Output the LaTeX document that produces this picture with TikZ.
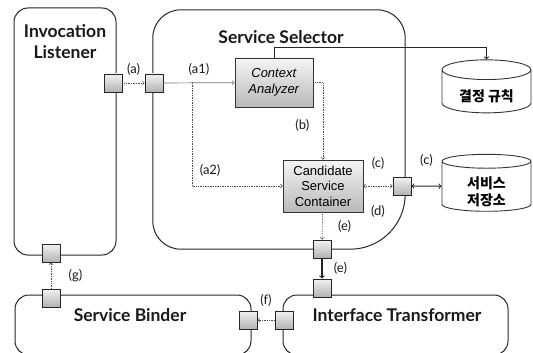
\documentclass[tikz,border=0pt]{standalone}
\usepackage{fontspec}
\usetikzlibrary{shapes.geometric}
\setmainfont{Liberation Sans}
\newfontfamily\ttlfont{Lato}
\newfontfamily\krfont{Noto Sans CJK KR}
\newcommand\lowertext[1]{\raisebox{-5pt}[\height][\depth]{#1}}

\begin{document}
\begin{tikzpicture}[x=1pt, y=-1pt,
    comp/.style={draw=black!85, line width=1pt, rectangle, rounded corners=14pt, inner sep=0pt},
    edge line/.style={draw=black!85, line width=1pt},
    title/.style={font=\ttlfont\bfseries\fontsize{17.5}{21}\selectfont, align=center, text=black!90},
    inbox/.style={draw=black!80, line width=0.9pt, top color=gray!8, bottom color=gray!55, font=\fontsize{13}{15.5}\selectfont, align=center, inner sep=0pt},
    port/.style={draw=black!85, line width=0.8pt, top color=gray!10, bottom color=gray!60, minimum size=18pt, inner sep=0pt},
    store/.style={draw=black!80, line width=0.9pt, cylinder, shape border rotate=90, aspect=0.36, font=\krfont\bfseries\fontsize{14}{17}\selectfont, inner sep=0pt},
    flow/.style={->, draw=black!70, line width=0.7pt, densely dotted},
    lab/.style={font=\ttlfont\fontsize{13}{15}\selectfont, text=black!90}]
  \useasboundingbox (0,0) rectangle (533,353);

  % components
  \node (il) at (65,131.5) [comp, minimum width=102pt, minimum height=247pt] {};
  \node (ss) at (279,129.5) [rectangle, minimum width=252pt, minimum height=239pt] {};
  \draw[edge line, rounded corners=28pt] (ss.east) -- (ss.north east) -- (ss.north west) -- (ss.south west) -- (ss.south);
  \draw[edge line, rounded corners=55pt] (ss.south) -- (ss.south east) -- (ss.east);
  \node (sb) at (133,325) [comp, minimum width=236pt, minimum height=60pt] {};
  \node (it) at (395.5,325) [comp, minimum width=225pt, minimum height=60pt] {};

  \node (ilname) at (65,42) [title] {Invocation\\Listener};
  \node (ssname) at (281,37) [title] {Service Selector};
  \node (sbname) at (130,315) [title] {Service Binder};
  \node (itname) at (397,315) [title] {Interface Transformer};

  % inside the selector
  \node (ca) at (274,82.5) [inbox, minimum width=78pt, minimum height=49pt] {\textit{Context}\\\textit{Analyzer}};
  \node (csc) at (323,186) [inbox, minimum width=80pt, minimum height=52pt] {Candidate\\Service\\Container};

  % stores
  \node (rules) at (486.5,91.5) [store, minimum width=89pt, minimum height=53pt] {\lowertext{결정 규칙}};
  \node (repo) at (486.5,186.5) [store, minimum width=89pt, minimum height=57pt] {\lowertext{\shortstack{서비스\\[1pt]저장소}}};

  % ports
  \node (pa1) at (113,83) [port] {};
  \node (pa2) at (154,83) [port] {};
  \node (pc) at (402,186) [port] {};
  \node (pe1) at (322,249) [port] {};
  \node (pe2) at (322,288) [port] {};
  \node (pf1) at (284,320) [port] {};
  \node (pf2) at (248,320) [port] {};
  \node (pg2) at (51,253) [port] {};
  \node (pg1) at (51,298) [port] {};
  \coordinate (split) at (192,83);

  % flows
  \draw[flow] (pa1) -- (pa2) node[lab, midway, above=4pt] {(a)};
  \draw[flow, solid, draw=black!55] (pa2) -- (ca) node[lab, midway, above=4pt] {(a1)};
  \draw[flow] (split) |- (csc.west) node[lab, pos=0.6, above=6pt] {(a2)};
  \draw[flow] (ca.east) -| (csc.north) node[lab, pos=0.78, left=10pt] {(b)};
  \draw[->, draw=black!85, line width=1pt] (ca.north) -- ++(0,-10) -| (rules.north);
  \draw[flow, <->] (csc) -- (pc) node[lab, midway, above=13pt] {(c)} node[lab, midway, below=16pt] {(d)};
  \draw[<->, draw=black!85, line width=1pt] (pc) -- (repo) node[lab, midway, above=16pt] {(c)};
  \draw[flow] (csc) -- (pe1) node[lab, midway, right=12pt] {(e)};
  \draw[->, draw=black!85, line width=1.1pt] (pe1) -- (pe2) node[lab, midway, right=8pt] {(e)};
  \draw[flow] (pf1) -- (pf2) node[lab, midway, above=10pt] {(f)};
  \draw[flow] (pg1) -- (pg2) node[lab, midway, right=14pt] {(g)};
\end{tikzpicture}
\end{document}
